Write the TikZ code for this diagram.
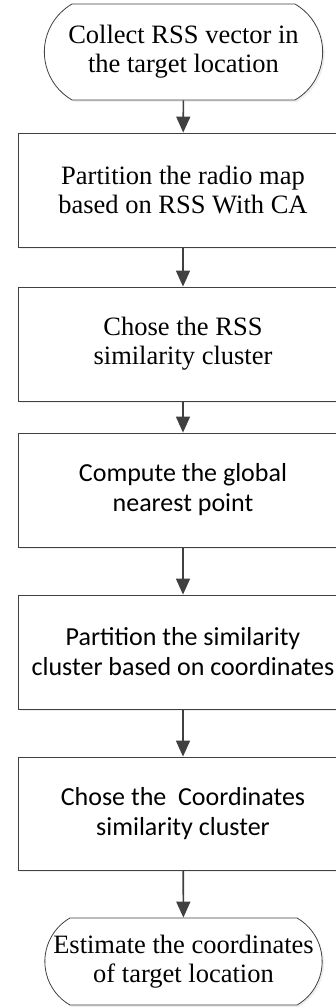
\documentclass[tikz,border=0pt]{standalone}
\usepackage{fontspec}
\setmainfont{Liberation Serif}
\newfontfamily\calibrifont{Carlito}
\usepackage{tikz}
\usetikzlibrary{arrows.meta,shapes.misc,shadows}
\definecolor{edge}{RGB}{64, 64, 64}

\begin{document}
\begin{tikzpicture}[x=1pt, y=1pt,
    stepbox/.style={draw=edge, line width=0.8pt, fill=white, minimum width=330pt, minimum height=114pt,
        align=center, font=\fontsize{26.5}{29}\selectfont,
        drop shadow={shadow xshift=2pt, shadow yshift=-2pt, fill=black!12}},
    sansbox/.style={stepbox, font=\calibrifont\fontsize{26}{30}\selectfont},
    terminal/.style={stepbox, rounded rectangle, rounded rectangle arc length=120, minimum width=285pt},
    flow/.style={-{Triangle[length=16pt, width=14pt]}, line width=1.6pt, edge}]
    \useasboundingbox (0,0) rectangle (336,-1008);

    % Start and end terminals
    \node[terminal, minimum height=96pt] (collect) at (183.5,-52) {Collect RSS vector in\\the target location};
    \node[terminal, minimum height=87pt, minimum width=284pt] (estimate) at (183.5,-961.5) {Estimate the coordinates\\of target location};

    % Process steps
    \node[stepbox] (partmap) at (183,-190) {Partition the radio map\\based on RSS With CA};
    \node[stepbox] (choserss) at (183,-344) {Chose the RSS\\similarity cluster};
    \node[sansbox] (nearest) at (183,-490) {Compute the global\\nearest point};
    \node[sansbox] (partsim) at (183,-652) {Partition the similarity\\cluster based on coordinates};
    \node[sansbox, minimum height=113pt] (chosecoord) at (183,-813.5) {Chose the \ Coordinates\\similarity cluster};

    % Connectors
    \draw[flow] (collect) -- (partmap);
    \draw[flow] (partmap) -- (choserss);
    \draw[flow] (choserss) -- (nearest);
    \draw[flow] (nearest) -- (partsim);
    \draw[flow] (partsim) -- (chosecoord);
    \draw[flow] (chosecoord) -- (estimate);
\end{tikzpicture}
\end{document}
